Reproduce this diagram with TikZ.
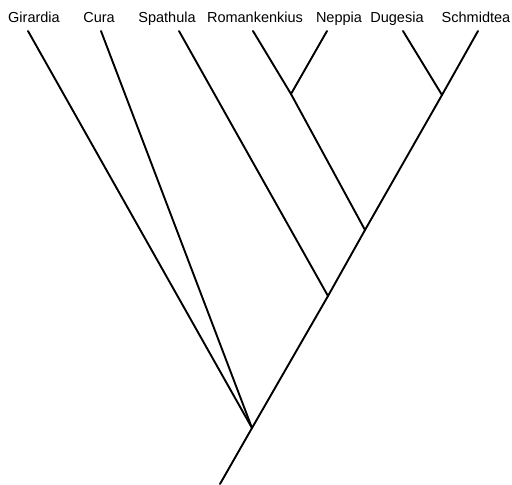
\documentclass[tikz,border=0pt]{standalone}
\usepackage{fontspec}
\setmainfont{Liberation Sans}
\usetikzlibrary{positioning}

\begin{document}
\begin{tikzpicture}[x=1pt,y=-1pt]
\tikzstyle{taxon}=[anchor=base,inner sep=0pt,font=\fontsize{14.5}{17}\selectfont]
\tikzstyle{branch}=[line width=1.9pt,line cap=round]
\useasboundingbox (0,0) rectangle (512,485);
% taxa
\node[taxon] (girardia) at (34,22) {Girardia};
\node[taxon] (cura) at (99,22) {Cura};
\node[taxon] (spathula) at (167,22) {Spathula};
\node[taxon] (romankenkius) at (255,22) {Romankenkius};
\node[taxon] (neppia) at (339,22) {Neppia};
\node[taxon] (dugesia) at (397,22) {Dugesia};
\node[taxon] (schmidtea) at (476,22) {Schmidtea};
% branch tips
\coordinate (girardiaTip) at (28,31);
\coordinate (curaTip) at (101,31);
\coordinate (spathulaTip) at (179,31);
\coordinate (romankenkiusTip) at (253,31);
\coordinate (neppiaTip) at (327,31);
\coordinate (dugesiaTip) at (403,31);
\coordinate (schmidteaTip) at (478,31);
% internal nodes
\coordinate (root) at (220,484);
\coordinate (n1) at (252,428);
\coordinate (n2) at (328,296);
\coordinate (n3) at (365,230);
\coordinate (n4) at (291,94);
\coordinate (n5) at (442,95);
\foreach \a/\b in {root/n1,n1/n2,n2/n3,n3/n5,n5/schmidteaTip,girardiaTip/n1,curaTip/n1,spathulaTip/n2,romankenkiusTip/n4,n4/n3,neppiaTip/n4,dugesiaTip/n5}{\draw[branch] (\a) -- (\b);}
\end{tikzpicture}
\end{document}
